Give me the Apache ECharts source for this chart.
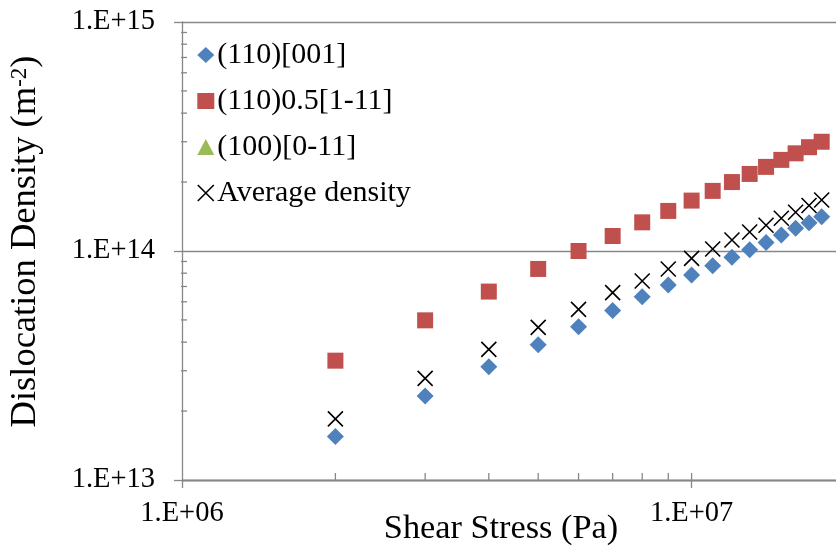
<!DOCTYPE html>
<html>
<head>
<meta charset="utf-8">
<script src="https://cdn.jsdelivr.net/npm/echarts@6/dist/echarts.min.js"></script>
<style>
  html, body { margin: 0; padding: 0; background: #ffffff; }
  #chart { width: 836px; height: 546px; }
</style>
</head>
<body>
<div id="chart"></div>
<script>
// Shear stress (Pa) for each computed point
const shearStress = [2e6, 3e6, 4e6, 5e6, 6e6, 7e6, 8e6, 9e6, 10e6, 11e6, 12e6, 13e6, 14e6, 15e6, 16e6, 17e6, 18e6];

// Dislocation density (m^-2) per slip system
const density110_001 = [1.55e13, 2.33e13, 3.12e13, 3.90e13, 4.67e13, 5.50e13, 6.32e13, 7.11e13, 7.86e13, 8.63e13, 9.38e13, 1.013e14, 1.09e14, 1.174e14, 1.256e14, 1.33e14, 1.41e14];
const density110_half1m11 = [3.32e13, 4.98e13, 6.65e13, 8.35e13, 1.00e14, 1.163e14, 1.334e14, 1.496e14, 1.66e14, 1.83e14, 2.00e14, 2.17e14, 2.33e14, 2.50e14, 2.67e14, 2.84e14, 3.00e14];
const density100_0m11 = [];
const densityAverage = [1.85e13, 2.78e13, 3.72e13, 4.64e13, 5.56e13, 6.58e13, 7.40e13, 8.34e13, 9.29e13, 1.02e14, 1.117e14, 1.21e14, 1.295e14, 1.39e14, 1.476e14, 1.58e14, 1.67e14];

const seriesNames = ['(110)[001]', '(110)0.5[1-11]', '(100)[0-11]', 'Average density'];

// Axis ranges and the log-scale sub-decade tick positions
const xRange = [1e6, 2e7];
const yRange = [1e13, 1e15];
const xInnerTicks = [2e6, 3e6, 4e6, 5e6, 6e6, 7e6, 8e6, 9e6, 1e7];
const yInnerTicks = [2e13, 3e13, 4e13, 5e13, 6e13, 7e13, 8e13, 9e13, 2e14, 3e14, 4e14, 5e14, 6e14, 7e14, 8e14, 9e14];

const FONT = "'Liberation Serif', 'Times New Roman', serif";
const GREY = '#878787';
const CROSS = 'path://M0,0L10,10M10,0L0,10';

const pairs = (xs, ys) => ys.map((y, i) => [xs[i], y]);

function sciLabel(v) {
  const e = Math.round(Math.log10(v));
  if (Math.abs(Math.pow(10, e) - v) / v > 1e-6) return '';
  return '1.E+' + (e < 10 ? '0' + e : '' + e);
}

const chart = echarts.init(document.getElementById('chart'), null, { renderer: 'canvas' });

chart.setOption({
  backgroundColor: '#ffffff',
  animation: false,
  grid: { left: 182, top: 22, width: 663, height: 458, containLabel: false, outerBoundsMode: 'none' },
  legend: {
    orient: 'vertical',
    left: 197,
    top: 40,
    itemWidth: 17,
    itemHeight: 16,
    itemGap: 16,
    backgroundColor: '#ffffff',
    padding: [0, 4, 0, 0],
    textStyle: { fontFamily: FONT, fontSize: 30, color: '#000000', padding: [0, 0, 0, -2] },
    data: [
      { name: seriesNames[0], icon: 'diamond' },
      { name: seriesNames[1], icon: 'rect' },
      { name: seriesNames[2], icon: 'triangle' },
      { name: seriesNames[3], icon: CROSS, itemStyle: { color: 'rgba(0,0,0,0)', borderColor: '#000000', borderWidth: 1.6 } }
    ]
  },
  xAxis: {
    type: 'log',
    logBase: 10,
    min: xRange[0],
    max: xRange[1],
    name: 'Shear Stress (Pa)',
    nameLocation: 'middle',
    nameGap: 32,
    nameMoveOverlap: false,
    nameTextStyle: { fontFamily: FONT, fontSize: 34.3, color: '#000000', padding: [0, 25, 0, 0] },
    axisLine: { show: true, onZero: false, lineStyle: { color: GREY, width: 1.3 } },
    axisTick: { show: true, inside: false, length: 8, lineStyle: { color: GREY, width: 1.3 } },
    axisLabel: { fontFamily: FONT, fontSize: 28.5, color: '#000000', margin: 19, formatter: sciLabel, showMaxLabel: false },
    splitLine: { show: false },
    minorTick: { show: false }
  },
  yAxis: {
    type: 'log',
    logBase: 10,
    min: yRange[0],
    max: yRange[1],
    name: '{t|Dislocation Density (m}{s|-2}{t|)}',
    nameLocation: 'middle',
    nameGap: 138,
    nameRotate: 90,
    nameMoveOverlap: false,
    nameTextStyle: {
      fontFamily: FONT, color: '#000000', padding: [0, 0, 0, 19],
      rich: {
        t: { fontFamily: FONT, fontSize: 36.5, lineHeight: 38, color: '#000000', verticalAlign: 'bottom' },
        s: { fontFamily: FONT, fontSize: 23, lineHeight: 38, color: '#000000', verticalAlign: 'top', padding: [2, 0, 0, 0] }
      }
    },
    axisLine: { show: true, onZero: false, lineStyle: { color: GREY, width: 1.3 } },
    axisTick: { show: true, inside: false, length: 8, lineStyle: { color: GREY, width: 1.3 } },
    axisLabel: { fontFamily: FONT, fontSize: 28.5, color: '#000000', margin: 27, formatter: sciLabel },
    splitLine: { show: true, lineStyle: { color: GREY, width: 1.3 } }
  },
  series: [
    {
      name: seriesNames[0], type: 'scatter', symbol: 'diamond', symbolSize: 17, z: 3,
      itemStyle: { color: '#4F81BD', opacity: 1 },
      data: pairs(shearStress, density110_001)
    },
    {
      name: seriesNames[1], type: 'scatter', symbol: 'rect', symbolSize: 16, z: 3,
      itemStyle: { color: '#C0504D', opacity: 1 },
      data: pairs(shearStress, density110_half1m11)
    },
    {
      name: seriesNames[2], type: 'scatter', symbol: 'triangle', symbolSize: 15, z: 3,
      itemStyle: { color: '#9BBB59', opacity: 1 },
      data: pairs(shearStress, density100_0m11)
    },
    {
      name: seriesNames[3], type: 'scatter', symbol: CROSS, symbolSize: 15, z: 4,
      itemStyle: { color: 'rgba(0,0,0,0)', borderColor: '#000000', borderWidth: 1.6, opacity: 1 },
      data: pairs(shearStress, densityAverage)
    },
    {
      // short inward ticks on the stress axis
      name: 'xTicks', type: 'custom', silent: true, clip: false, z: 2,
      data: xInnerTicks.map(v => [v, yRange[0]]),
      renderItem: (params, api) => {
        const c = api.coord([api.value(0), api.value(1)]);
        return { type: 'line', shape: { x1: c[0], y1: c[1], x2: c[0], y2: c[1] - 7 }, style: { stroke: GREY, lineWidth: 1.3 } };
      }
    },
    {
      // short inward ticks on the density axis
      name: 'yTicks', type: 'custom', silent: true, clip: false, z: 2,
      data: yInnerTicks.map(v => [xRange[0], v]),
      renderItem: (params, api) => {
        const c = api.coord([api.value(0), api.value(1)]);
        return { type: 'line', shape: { x1: c[0] - 1, y1: c[1], x2: c[0] + 5, y2: c[1] }, style: { stroke: GREY, lineWidth: 1.3 } };
      }
    }
  ]
});
</script>
</body>
</html>
